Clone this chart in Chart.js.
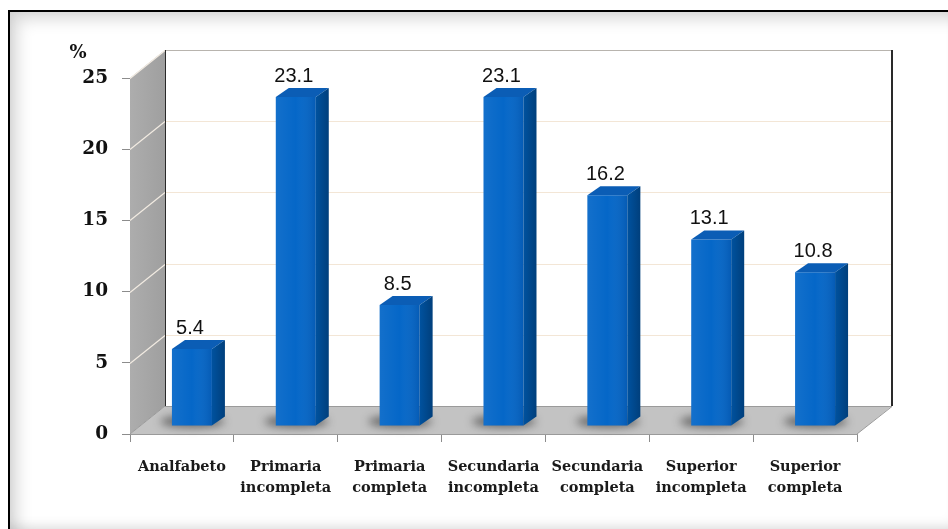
<!DOCTYPE html>
<html>
<head>
<meta charset="utf-8">
<script src="https://cdn.jsdelivr.net/npm/chart.js@4.4.1/dist/chart.umd.min.js"></script>
<style>
  html, body { margin: 0; padding: 0; background: #fff; overflow: hidden; }
  #wrap { position: relative; width: 948px; height: 529px; }
  #frame {
    position: absolute; left: 8px; top: 10px; width: 950px; height: 520px;
    border: 2.5px solid #000;
    box-shadow: inset 7px 7px 16px rgba(0,0,0,0.16), inset -4px -6px 12px rgba(0,0,0,0.12);
  }
  canvas { position: absolute; left: 0; top: 0; }
</style>
</head>
<body>
<div id="wrap">
  <div id="frame"></div>
  <canvas id="chart" width="948" height="529"></canvas>
</div>
<script>
const categories = [
  ["Analfabeto"],
  ["Primaria", "incompleta"],
  ["Primaria", "completa"],
  ["Secundaria", "incompleta"],
  ["Secundaria", "completa"],
  ["Superior", "incompleta"],
  ["Superior", "completa"]
];
const percentages = [5.4, 23.1, 8.5, 23.1, 16.2, 13.1, 10.8];
const yTicks = [0, 5, 10, 15, 20, 25];
const unitLabel = "%";

// oblique depth of the walls and of the bars
const WALL_DX = 35, WALL_DY = -28;
const BAR_DX = 10, BAR_DY = -8;
const BAR_DEPTH_X = 13, BAR_DEPTH_Y = -9;

function poly(ctx, pts) {
  ctx.beginPath();
  ctx.moveTo(pts[0][0], pts[0][1]);
  for (let i = 1; i < pts.length; i++) ctx.lineTo(pts[i][0], pts[i][1]);
  ctx.closePath();
}

const wallsPlugin = {
  id: "walls",
  beforeDraw(chart) {
    const ctx = chart.ctx;
    const { left, right, top, bottom } = chart.chartArea;
    const yScale = chart.scales.y;
    ctx.save();

    // back wall
    ctx.fillStyle = "#ffffff";
    ctx.fillRect(left + WALL_DX, top + WALL_DY, right - left, bottom - top);

    // left side wall
    const sideGrad = ctx.createLinearGradient(left, 0, left + WALL_DX, 0);
    sideGrad.addColorStop(0, "#adadad");
    sideGrad.addColorStop(1, "#9f9f9f");
    ctx.fillStyle = sideGrad;
    poly(ctx, [[left, top], [left + WALL_DX, top + WALL_DY], [left + WALL_DX, bottom + WALL_DY], [left, bottom]]);
    ctx.fill();

    // floor
    ctx.fillStyle = "#c3c3c3";
    poly(ctx, [[left, bottom], [left + WALL_DX, bottom + WALL_DY], [right + WALL_DX, bottom + WALL_DY], [right, bottom]]);
    ctx.fill();

    // gridlines on back wall and side wall
    ctx.lineWidth = 1.2;
    yTicks.forEach((v) => {
      if (v === 0) return;
      const yp = Math.round(yScale.getPixelForValue(v)) + 0.5;
      ctx.strokeStyle = v === 25 ? "#b8b4ae" : "#f3e6d6";
      ctx.beginPath();
      ctx.moveTo(left + WALL_DX, yp + WALL_DY);
      ctx.lineTo(right + WALL_DX, yp + WALL_DY);
      ctx.stroke();
      ctx.strokeStyle = "#f2ebe2";
      ctx.beginPath();
      ctx.moveTo(left, yp);
      ctx.lineTo(left + WALL_DX, yp + WALL_DY);
      ctx.stroke();
    });

    // wall edges
    ctx.strokeStyle = "#2a2a2a";
    ctx.lineWidth = 1;
    ctx.beginPath();
    ctx.moveTo(left + WALL_DX + 0.5, top + WALL_DY);
    ctx.lineTo(left + WALL_DX + 0.5, bottom + WALL_DY);
    ctx.stroke();
    ctx.lineWidth = 2;
    ctx.beginPath();
    ctx.moveTo(right + WALL_DX, top + WALL_DY);
    ctx.lineTo(right + WALL_DX, bottom + WALL_DY);
    ctx.stroke();

    ctx.strokeStyle = "#9a9a9a";
    ctx.lineWidth = 1;
    ctx.beginPath();
    ctx.moveTo(left + WALL_DX, bottom + WALL_DY + 0.5);
    ctx.lineTo(right + WALL_DX, bottom + WALL_DY + 0.5);
    ctx.lineTo(right, bottom);
    ctx.moveTo(left, bottom);
    ctx.lineTo(left + WALL_DX, bottom + WALL_DY);
    ctx.stroke();

    // unit label above the axis
    ctx.fillStyle = "#111";
    ctx.font = "bold 18px 'DejaVu Serif'";
    ctx.textAlign = "center";
    ctx.textBaseline = "middle";
    ctx.fillText(unitLabel, 78, 53);
    ctx.restore();
  }
};

const bars3dPlugin = {
  id: "bars3d",
  beforeDatasetsDraw(chart) {
    const ctx = chart.ctx;
    const meta = chart.getDatasetMeta(0);
    ctx.save();
    // soft shadows on the floor
    ctx.filter = "blur(4px)";
    ctx.fillStyle = "rgba(40,40,40,0.6)";
    meta.data.forEach((bar) => {
      const cx = bar.x + BAR_DX + BAR_DEPTH_X / 2 - 6;
      const cy = bar.base + BAR_DY - 4;
      ctx.beginPath();
      ctx.ellipse(cx, cy, bar.width / 2 + 12, 6, 0, 0, Math.PI * 2);
      ctx.fill();
    });
    ctx.restore();
    ctx.save();
    ctx.translate(BAR_DX, BAR_DY);
  },
  afterDatasetsDraw(chart) {
    const ctx = chart.ctx;
    const meta = chart.getDatasetMeta(0);
    meta.data.forEach((bar) => {
      const xl = bar.x - bar.width / 2;
      const xr = bar.x + bar.width / 2;
      const yt = bar.y;
      const yb = bar.base;
      // top face
      ctx.fillStyle = "#0b5db5";
      poly(ctx, [[xl, yt], [xl + BAR_DEPTH_X, yt + BAR_DEPTH_Y], [xr + BAR_DEPTH_X, yt + BAR_DEPTH_Y], [xr, yt]]);
      ctx.fill();
      // side face
      const sg = ctx.createLinearGradient(xr, 0, xr + BAR_DEPTH_X, 0);
      sg.addColorStop(0, "#00529f");
      sg.addColorStop(1, "#003f7c");
      ctx.fillStyle = sg;
      poly(ctx, [[xr, yt], [xr + BAR_DEPTH_X, yt + BAR_DEPTH_Y], [xr + BAR_DEPTH_X, yb + BAR_DEPTH_Y], [xr, yb]]);
      ctx.fill();
      // front face shading
      const fg = ctx.createLinearGradient(xl, 0, xr, 0);
      fg.addColorStop(0, "rgba(255,255,255,0.06)");
      fg.addColorStop(0.5, "rgba(255,255,255,0.0)");
      fg.addColorStop(1, "rgba(0,0,40,0.12)");
      ctx.fillStyle = fg;
      ctx.fillRect(xl, yt, xr - xl, yb - yt);
    });
    ctx.restore();

    // value labels
    ctx.save();
    ctx.fillStyle = "#111";
    ctx.font = "20px 'Liberation Sans'";
    ctx.textAlign = "center";
    ctx.textBaseline = "alphabetic";
    meta.data.forEach((bar, i) => {
      ctx.fillText(percentages[i].toFixed(1), bar.x + 8, bar.y + BAR_DY + BAR_DEPTH_Y - 6);
    });
    ctx.restore();
  }
};

new Chart(document.getElementById("chart"), {
  type: "bar",
  data: {
    labels: categories,
    datasets: [{
      data: percentages,
      backgroundColor: "#0567c8",
      borderWidth: 0,
      barPercentage: 0.385,
      categoryPercentage: 1
    }]
  },
  options: {
    responsive: false,
    animation: false,
    events: [],
    devicePixelRatio: 1,
    layout: { padding: { left: 0, top: 78, right: 91, bottom: 20 } },
    plugins: { legend: { display: false }, tooltip: { enabled: false } },
    scales: {
      x: {
        afterFit: (scale) => { scale.height = 75; },
        grid: { offset: true, drawOnChartArea: false, tickLength: 8, color: "#8c8c8c" },
        border: { color: "#9a9a9a" },
        ticks: {
          color: "#1a1a1a",
          font: { family: "'DejaVu Serif'", weight: "bold", size: 14.5, lineHeight: 1.5 },
          padding: 14,
          maxRotation: 0,
          autoSkip: false
        }
      },
      y: {
        min: 0,
        max: 25,
        afterFit: (scale) => { scale.width = 130; },
        afterBuildTicks: (scale) => { scale.ticks = yTicks.map((v) => ({ value: v })); },
        grid: { drawOnChartArea: false, tickLength: 8, color: "#8c8c8c" },
        border: { display: false },
        ticks: {
          color: "#111",
          font: { family: "'DejaVu Serif'", weight: "bold", size: 18.5 },
          padding: 14
        }
      }
    }
  },
  plugins: [wallsPlugin, bars3dPlugin]
});
</script>
</body>
</html>
